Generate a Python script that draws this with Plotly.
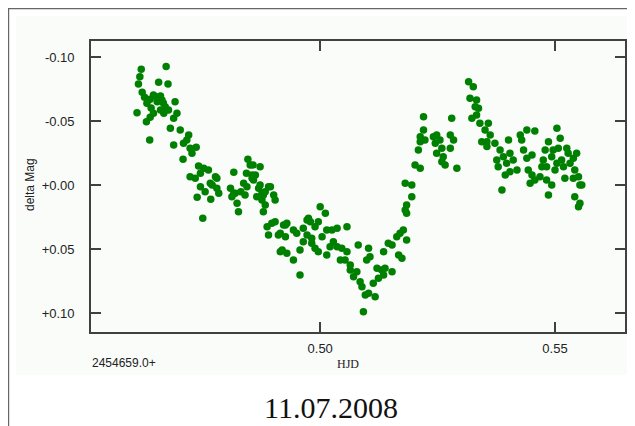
import plotly.graph_objects as go

# ---- data (HJD - 2454659.0, delta Mag) ----
hjd = [
    0.4610, 0.4613, 0.4616, 0.4619, 0.4621, 0.4626, 0.4630, 0.4631, 0.4637, 0.4638,
    0.4638, 0.4640, 0.4645, 0.4645, 0.4653, 0.4653, 0.4656, 0.4660, 0.4660, 0.4663,
    0.4666, 0.4667, 0.4670, 0.4672, 0.4676, 0.4677, 0.4681, 0.4688, 0.4688, 0.4691,
    0.4695, 0.4702, 0.4708, 0.4709, 0.4716, 0.4720, 0.4723, 0.4723, 0.4727, 0.4734,
    0.4736, 0.4738, 0.4741, 0.4745, 0.4745, 0.4750, 0.4752, 0.4755, 0.4762, 0.4766,
    0.4767, 0.4770, 0.4777, 0.4780, 0.4780, 0.4784,
    0.4809, 0.4812, 0.4816, 0.4816, 0.4819, 0.4823, 0.4826, 0.4831, 0.4837, 0.4840,
    0.4843, 0.4844, 0.4846, 0.4851, 0.4855, 0.4855, 0.4857, 0.4858, 0.4862, 0.4865,
    0.4869, 0.4872, 0.4872, 0.4876, 0.4876, 0.4879, 0.4879, 0.4883, 0.4883, 0.4887,
    0.4890, 0.4890, 0.4894, 0.4897, 0.4901, 0.4904, 0.4904, 0.4911, 0.4915, 0.4915,
    0.4919, 0.4922, 0.4926, 0.4926, 0.4929, 0.4929, 0.4943, 0.4943, 0.4950, 0.4957,
    0.4957, 0.4964, 0.4964, 0.4972, 0.4972, 0.4975, 0.4979, 0.4982, 0.4982, 0.4989,
    0.4989, 0.4996, 0.4996, 0.5000, 0.5004, 0.5011, 0.5014, 0.5014, 0.5021,
    0.5025, 0.5028, 0.5036, 0.5036, 0.5043, 0.5046, 0.5053, 0.5057, 0.5057, 0.5064,
    0.5064, 0.5071, 0.5078, 0.5081, 0.5085, 0.5089, 0.5092, 0.5096, 0.5099, 0.5103,
    0.5103, 0.5106, 0.5113, 0.5117, 0.5121, 0.5124, 0.5131, 0.5135, 0.5135, 0.5138,
    0.5145, 0.5153, 0.5153, 0.5163, 0.5167, 0.5170, 0.5174, 0.5177, 0.5181, 0.5181,
    0.5184, 0.5184, 0.5184, 0.5195, 0.5195,
    0.5202, 0.5209, 0.5213, 0.5213, 0.5213, 0.5220, 0.5220, 0.5223, 0.5241, 0.5245,
    0.5248, 0.5248, 0.5255, 0.5259, 0.5259, 0.5262, 0.5266, 0.5277, 0.5277, 0.5280,
    0.5284, 0.5291,
    0.5316, 0.5319, 0.5323, 0.5326, 0.5330, 0.5333, 0.5333, 0.5337, 0.5340, 0.5344,
    0.5351, 0.5355, 0.5355, 0.5358, 0.5362, 0.5372, 0.5376, 0.5379, 0.5383, 0.5387,
    0.5390, 0.5394, 0.5397, 0.5401, 0.5404, 0.5404, 0.5411, 0.5419, 0.5426, 0.5429,
    0.5433, 0.5440, 0.5440, 0.5443, 0.5447, 0.5451, 0.5451, 0.5457, 0.5457, 0.5468,
    0.5472, 0.5475, 0.5479, 0.5482, 0.5482, 0.5486, 0.5486, 0.5493, 0.5493, 0.5496,
    0.5500, 0.5504, 0.5504, 0.5507, 0.5511, 0.5514, 0.5518, 0.5521, 0.5525, 0.5528,
    0.5532, 0.5539, 0.5539, 0.5542, 0.5546, 0.5550, 0.5553, 0.5542, 0.5553, 0.5550,
    0.5557,
]
dmag = [
    -0.0567, -0.0791, -0.0848, -0.0906, -0.0727, -0.0688, -0.0497, -0.0641, -0.0354, -0.0672,
    -0.0531, -0.0604, -0.0705, -0.0563, -0.0653, -0.0690, -0.0805, -0.0698, -0.0588, -0.0666,
    -0.0643, -0.0563, -0.0614, -0.0927, -0.0791, -0.0588, -0.0445, -0.0523, -0.0315, -0.0653,
    -0.0563, -0.0432, -0.0203, -0.0328, -0.0354, -0.0393, -0.0289, -0.0067, -0.0250, -0.0055,
    -0.0297, 0.0094, -0.0151, -0.0094, 0.0011, 0.0258, -0.0133, 0.0050, -0.0120, -0.0016,
    0.0109, -0.0002, -0.0067, -0.0055, 0.0023, 0.0063,
    0.0023, 0.0089, -0.0102, 0.0063, 0.0063, 0.0141, 0.0206, 0.0050, -0.0016, 0.0076,
    -0.0094, 0.0011, -0.0203, -0.0159, -0.0080, -0.0055, -0.0159, -0.0041, -0.0080, 0.0089,
    0.0023, -0.0145, -0.0002, 0.0063, 0.0115, 0.0076, 0.0206, 0.0050, 0.0154, 0.0323,
    0.0011, 0.0388, 0.0011, 0.0297, 0.0076, 0.0115, 0.0284, 0.0388, 0.0375, 0.0519,
    0.0505, 0.0310, 0.0310, 0.0402, 0.0297, 0.0531, 0.0349, 0.0584, 0.0375, 0.0505,
    0.0701, 0.0336, 0.0441, 0.0271, 0.0388, 0.0258, 0.0284, 0.0414, 0.0453, 0.0323,
    0.0492, 0.0284, 0.0519, 0.0167, 0.0402, 0.0219, 0.0349, 0.0545, 0.0480,
    0.0349, 0.0441, 0.0336, 0.0480, 0.0584, 0.0492, 0.0584, 0.0323, 0.0519, 0.0623,
    0.0662, 0.0714, 0.0675, 0.0466, 0.0753, 0.0792, 0.0988, 0.0857, 0.0584, 0.0492,
    0.0844, 0.0558, 0.0766, 0.0870, 0.0648, 0.0727, 0.0662, 0.0519, 0.0701, 0.0648,
    0.0453, 0.0466, 0.0675, 0.0402, 0.0545, 0.0375, 0.0570, 0.0349, -0.0016, 0.0193,
    0.0154, 0.0219, 0.0427, -0.0002, 0.0089,
    -0.0159, -0.0276, -0.0380, -0.0341, -0.0133, -0.0536, -0.0432, -0.0354, -0.0380, -0.0328,
    -0.0393, -0.0250, -0.0354, -0.0289, -0.0184, -0.0223, -0.0159, -0.0393, -0.0289, -0.0523,
    -0.0354, -0.0133,
    -0.0809, -0.0680, -0.0523, -0.0770, -0.0614, -0.0666, -0.0549, -0.0602, -0.0484, -0.0341,
    -0.0432, -0.0341, -0.0302, -0.0484, -0.0393, -0.0328, -0.0198, -0.0145, -0.0276, 0.0037,
    -0.0223, -0.0080, -0.0172, -0.0354, -0.0250, -0.0106, -0.0198, -0.0120, -0.0393, -0.0354,
    -0.0276, -0.0432, -0.0211, -0.0120, -0.0016, -0.0237, -0.0080, -0.0424, -0.0041, -0.0067,
    -0.0145, -0.0198, -0.0276, -0.0145, -0.0041, -0.0341, 0.0076, -0.0223, -0.0002, -0.0276,
    -0.0120, -0.0445, -0.0172, -0.0289, -0.0367, -0.0198, -0.0145, -0.0055, -0.0289, -0.0250,
    -0.0172, -0.0211, -0.0055, -0.0120, -0.0250, -0.0067, -0.0002, 0.0089, 0.0141, 0.0167,
    -0.0002,
]

x_tickvals = [0.50, 0.55]
x_ticktext = ["0.50", "0.55"]
y_tickvals = [-0.10, -0.05, 0.00, 0.05, 0.10]
y_ticktext = ["-0.10", "-0.05", "+0.00", "+0.05", "+0.10"]

# The page body has an 8px margin, so the figure is drawn 8px in from the window edge.
OFF = 8
W, H = 635 - OFF, 426 - OFF
L, R, T, B = 83, 10, 33, 94
pw, ph = W - L - R, H - T - B


def px(xp):
    """window x pixel -> paper x"""
    return (xp - OFF - L) / pw


def py(yp):
    """window y pixel -> paper y"""
    return (H - B - (yp - OFF)) / ph


panel = "#FAFCFA"
axcol = "#404040"

fig = go.Figure()
fig.add_trace(go.Scatter(
    x=hjd, y=dmag, mode="markers",
    marker=dict(color="#008000", size=7.5, line=dict(width=0)),
    hoverinfo="skip", showlegend=False,
))

axis_common = dict(
    showgrid=False, zeroline=False, showline=True, linecolor=axcol, linewidth=1.6,
    mirror="allticks", ticks="inside", ticklen=10, tickcolor=axcol, tickwidth=1.5,
    tickfont=dict(family="Liberation Sans, Arial, sans-serif", size=13, color="#222222"),
)

fig.update_xaxes(range=[0.4512, 0.5649], tickmode="array", tickvals=x_tickvals,
                 ticktext=x_ticktext, ticklabelstandoff=4, **axis_common)
fig.update_yaxes(range=[0.1146, -0.1127], tickmode="array", tickvals=y_tickvals,
                 ticktext=y_ticktext, ticklabelstandoff=12, **axis_common)

shapes = [
    # light panel
    dict(type="rect", xref="paper", yref="paper", x0=px(16), x1=px(634), y0=py(375), y1=py(16),
         fillcolor=panel, line=dict(width=0), layer="below"),
    # frame lines
    dict(type="line", xref="paper", yref="paper", x0=px(8), x1=px(640), y0=py(8.6), y1=py(8.6),
         line=dict(color="#666666", width=1.2)),
    dict(type="line", xref="paper", yref="paper", x0=px(8.6), x1=px(8.6), y0=py(430), y1=py(8),
         line=dict(color="#666666", width=1.2)),
]

annotations = [
    dict(text="2454659.0+", xref="paper", yref="paper", x=px(90), y=py(363),
         xanchor="left", yanchor="middle", showarrow=False,
         font=dict(family="Liberation Sans, Arial, sans-serif", size=12, color="#222222")),
    dict(text="HJD", xref="paper", yref="paper", x=px(348), y=py(364),
         xanchor="center", yanchor="middle", showarrow=False,
         font=dict(family="Liberation Serif, Times New Roman, serif", size=12, color="#222222")),
    dict(text="delta Mag", xref="paper", yref="paper", x=px(30), y=py(185),
         xanchor="center", yanchor="middle", showarrow=False, textangle=-90,
         font=dict(family="Liberation Sans, Arial, sans-serif", size=12, color="#222222")),
    dict(text="11.07.2008", xref="paper", yref="paper", x=px(331), y=py(407),
         xanchor="center", yanchor="middle", showarrow=False,
         font=dict(family="Liberation Serif, Times New Roman, serif", size=30, color="#111111")),
]

fig.update_layout(
    width=W, height=H, margin=dict(l=L, r=R, t=T, b=B, autoexpand=False),
    paper_bgcolor="white", plot_bgcolor=panel,
    shapes=shapes, annotations=annotations, showlegend=False,
)

fig.write_html("out.html", config={"displayModeBar": False})
